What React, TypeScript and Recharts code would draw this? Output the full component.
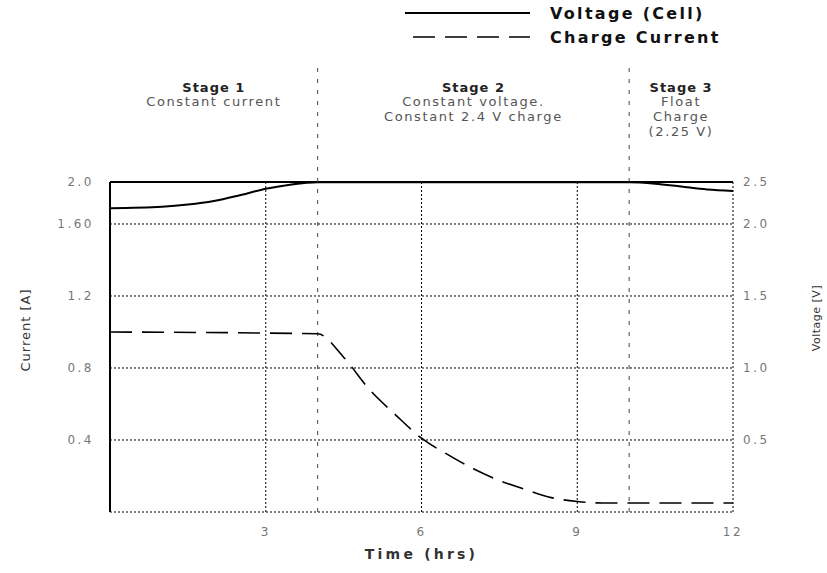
import React from 'react';
import { LineChart, Line, XAxis, YAxis, CartesianGrid, ReferenceLine, ReferenceArea } from 'recharts';

// ---- data ----
const voltageTime = [0, 1, 1.5, 2, 2.5, 3, 3.5, 4, 10, 10.5, 11, 11.5, 12];
const voltageValues = [2.11, 2.12, 2.135, 2.16, 2.2, 2.245, 2.275, 2.29, 2.29, 2.28, 2.26, 2.24, 2.23];

const currentTime = [0, 4, 4.5, 5, 5.5, 6, 6.5, 7, 7.5, 8, 8.5, 9, 9.5, 10, 12];
const currentValues = [1.0, 0.99, 0.86, 0.68, 0.54, 0.41, 0.32, 0.24, 0.175, 0.125, 0.08, 0.058, 0.05, 0.05, 0.05];

const timeTicks = [3, 6, 9, 12];
const currentTicks = [0.4, 0.8, 1.2, 1.6, 1.8333];
const currentTickLabels = ['0.4', '0.8', '1.2', '1.60', '2.0'];
const voltageTicks = [0.5, 1.0, 1.5, 2.0, 2.2917];
const voltageTickLabels = ['0.5', '1.0', '1.5', '2.0', '2.5'];
const currentAxisTop = 1.8333;
const voltageAxisTop = 2.2917;

const stageStarts = [0, 4, 10];
const stageEnds = [4, 10, 12];
const stageTitles = ['Stage 1', 'Stage 2', 'Stage 3'];
const stageNotes = [
  ['Constant current'],
  ['Constant voltage.', 'Constant 2.4 V charge'],
  ['Float', 'Charge', '(2.25 V)'],
];
const stageBoundaries = [4, 10];
const stageLineTop = 2.48; // in current-axis units, above the plot

const legendLabels = ['Voltage (Cell)', 'Charge Current'];

const voltageData = voltageTime.map((t, i) => ({ t, v: voltageValues[i] }));
const currentData = currentTime.map((t, i) => ({ t, a: currentValues[i] }));

const FONT = '"DejaVu Sans", sans-serif';

const StageLabel = (props: any) => {
  const { viewBox, idx } = props;
  if (!viewBox || idx == null) return null;
  const cx = viewBox.x + viewBox.width / 2;
  const top = viewBox.y;
  return (
    <g>
      <text x={cx} y={top + 26} textAnchor="middle" fontFamily={FONT} fontSize={13} fontWeight="bold" fill="#222" letterSpacing={1}>
        {stageTitles[idx]}
      </text>
      {stageNotes[idx].map((line, j) => (
        <text key={j} x={cx} y={top + 40 + j * 15} textAnchor="middle" fontFamily={FONT} fontSize={13} fill="#555" letterSpacing={1.6}>
          {line}
        </text>
      ))}
    </g>
  );
};

const AxisTitle = (props: any) => {
  const { viewBox, text, fx = 0, fy = 0, offX = 0, offY = 0, rot = 0, size = 12, bold = false, spacing = 0.5 } = props;
  if (!viewBox) return null;
  const cx = viewBox.x + fx * viewBox.width + offX;
  const cy = viewBox.y + fy * viewBox.height + offY;
  return (
    <text
      x={cx}
      y={cy}
      textAnchor="middle"
      dominantBaseline="central"
      transform={rot ? `rotate(${rot} ${cx} ${cy})` : undefined}
      fontFamily={FONT}
      fontSize={size}
      fontWeight={bold ? 'bold' : 'normal'}
      letterSpacing={spacing}
      fill="#333"
    >
      {text}
    </text>
  );
};

const tickStyle = { fontSize: 12, fill: '#777', fontFamily: FONT, letterSpacing: 2.5 };

export default function App() {
  return (
    <div style={{ position: 'absolute', left: 0, top: 0, width: 827, height: 573, background: '#fff', overflow: 'hidden' }}>
      <LineChart width={827} height={573} margin={{ top: 182, right: 4, bottom: 6, left: 10 }}>
        <CartesianGrid yAxisId="left" stroke="#000" strokeDasharray="2 2" strokeWidth={1} />
        <XAxis
          dataKey="t"
          type="number"
          domain={[0, 12]}
          ticks={timeTicks}
          interval={0}
          allowDataOverflow
          axisLine={false}
          tickLine={false}
          tickSize={0}
          tickMargin={15}
          height={55}
          tick={tickStyle}
          label={<AxisTitle text="Time (hrs)" fx={0.5} offY={42} size={14} bold spacing={3.2} />}
        />
        <YAxis
          yAxisId="left"
          type="number"
          domain={[0, currentAxisTop]}
          ticks={currentTicks}
          interval={0}
          allowDataOverflow
          axisLine={{ stroke: '#000', strokeWidth: 2 }}
          tickLine={false}
          tickSize={0}
          tickMargin={16}
          width={100}
          tick={tickStyle}
          tickFormatter={(v: number) => currentTickLabels[currentTicks.indexOf(v)] ?? ''}
          label={<AxisTitle text="Current [A]" offX={15} fy={0.5} offY={-17} rot={-90} size={13} spacing={1} />}
        />
        <YAxis
          yAxisId="right"
          orientation="right"
          type="number"
          domain={[0, voltageAxisTop]}
          ticks={voltageTicks}
          interval={0}
          allowDataOverflow
          axisLine={false}
          tickLine={false}
          tickSize={0}
          tickMargin={10}
          width={90}
          tick={tickStyle}
          tickFormatter={(v: number) => voltageTickLabels[voltageTicks.indexOf(v)] ?? ''}
          label={<AxisTitle text="Voltage [V]" offX={83} fy={0.5} offY={-29} rot={-90} size={11} />}
        />
        <ReferenceLine yAxisId="left" y={currentAxisTop} stroke="#000" strokeWidth={2} ifOverflow="visible" />
        {stageStarts.map((s, i) => (
          <ReferenceArea
            key={`area-${i}`}
            yAxisId="left"
            x1={s}
            x2={stageEnds[i]}
            y1={currentAxisTop}
            y2={stageLineTop}
            ifOverflow="visible"
            fill="none"
            fillOpacity={0}
            stroke="none"
            label={<StageLabel idx={i} />}
          />
        ))}
        {stageBoundaries.map((b) => (
          <ReferenceLine
            key={b}
            yAxisId="left"
            segment={[{ x: b, y: 0 }, { x: b, y: stageLineTop }]}
            stroke="#444"
            strokeDasharray="4 7"
            strokeWidth={1}
            ifOverflow="visible"
          />
        ))}
        <Line
          yAxisId="right"
          data={voltageData}
          dataKey="v"
          type="monotone"
          stroke="#000"
          strokeWidth={2}
          dot={false}
          isAnimationActive={false}
        />
        <Line
          yAxisId="left"
          data={currentData}
          dataKey="a"
          type="monotone"
          stroke="#000"
          strokeWidth={1.6}
          strokeDasharray="22 10"
          dot={false}
          isAnimationActive={false}
        />
      </LineChart>
      <div style={{ position: 'absolute', left: 405, top: 3, height: 20, display: 'flex', alignItems: 'center' }}>
        <svg width={125} height={20}>
          <line x1={0} y1={10} x2={125} y2={10} stroke="#000" strokeWidth={2} />
        </svg>
        <span style={{ marginLeft: 20, fontFamily: FONT, fontWeight: 'bold', fontSize: 16, letterSpacing: 2.3, color: '#111' }}>
          {legendLabels[0]}
        </span>
      </div>
      <div style={{ position: 'absolute', left: 405, top: 27, height: 20, display: 'flex', alignItems: 'center' }}>
        <svg width={125} height={20}>
          <line x1={8} y1={10} x2={125} y2={10} stroke="#000" strokeWidth={1.6} strokeDasharray="22 10" />
        </svg>
        <span style={{ marginLeft: 20, fontFamily: FONT, fontWeight: 'bold', fontSize: 16, letterSpacing: 2.3, color: '#111' }}>
          {legendLabels[1]}
        </span>
      </div>
    </div>
  );
}
